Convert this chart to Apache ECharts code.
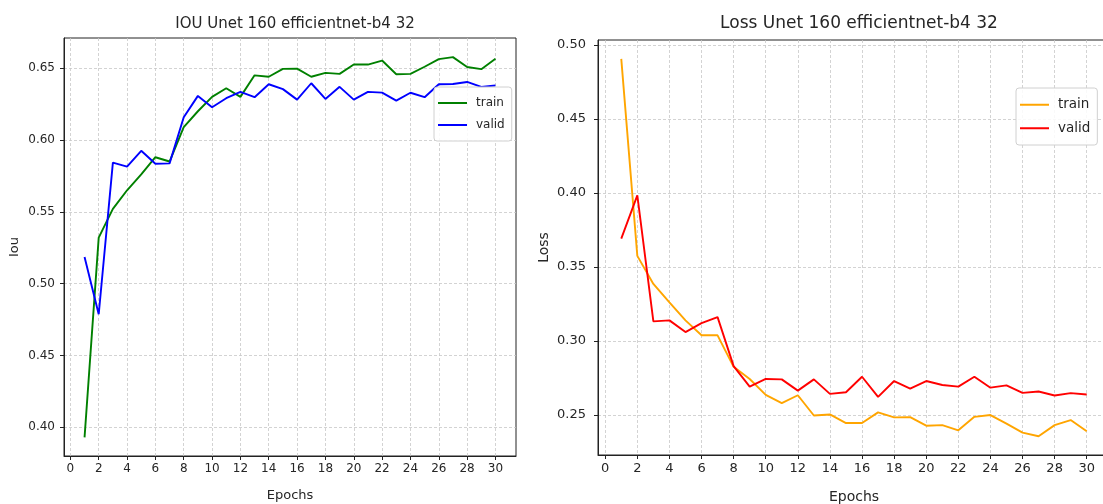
<!DOCTYPE html>
<html>
<head>
<meta charset="utf-8">
<script src="https://cdn.jsdelivr.net/npm/echarts@6/dist/echarts.min.js"></script>
<style>
html,body{margin:0;padding:0;background:#fff;}
#chart{width:1103px;height:504px;}
</style>
</head>
<body>
<div id="chart"></div>
<script>
const epochs = [1,2,3,4,5,6,7,8,9,10,11,12,13,14,15,16,17,18,19,20,21,22,23,24,25,26,27,28,29,30];
const iouTrain = [0.393, 0.532, 0.552, 0.565, 0.576, 0.588, 0.585, 0.609, 0.620, 0.630, 0.636, 0.630, 0.645, 0.644, 0.6495, 0.6497, 0.644, 0.6467, 0.646, 0.6525, 0.6525, 0.6553, 0.6458, 0.646, 0.651, 0.6563, 0.6577, 0.6508, 0.6493, 0.6565];
const iouValid = [0.5186, 0.4787, 0.5842, 0.5814, 0.5925, 0.5835, 0.5837, 0.6158, 0.6307, 0.6228, 0.6291, 0.6335, 0.6298, 0.6388, 0.6354, 0.6281, 0.6395, 0.6286, 0.637, 0.6281, 0.6335, 0.633, 0.6274, 0.6329, 0.6298, 0.6388, 0.639, 0.6404, 0.637, 0.6379];
const lossTrain = [0.4905, 0.3574, 0.3384, 0.326, 0.3138, 0.3037, 0.3037, 0.2824, 0.2742, 0.2634, 0.2578, 0.2632, 0.2495, 0.2502, 0.2444, 0.2444, 0.2516, 0.2482, 0.2484, 0.2426, 0.243, 0.2395, 0.2486, 0.2498, 0.244, 0.2379, 0.2355, 0.243, 0.2464, 0.2388];
const lossValid = [0.369, 0.3983, 0.3131, 0.3138, 0.3059, 0.3119, 0.316, 0.2829, 0.269, 0.2742, 0.2739, 0.2663, 0.2739, 0.2641, 0.2652, 0.2757, 0.2621, 0.2728, 0.2677, 0.2728, 0.2701, 0.269, 0.2757, 0.2683, 0.2699, 0.2648, 0.2657, 0.263, 0.2646, 0.2637];
const xTicks = [0,2,4,6,8,10,12,14,16,18,20,22,24,26,28,30];
const iouTicks = [0.40,0.45,0.50,0.55,0.60,0.65];
const lossTicks = [0.25,0.30,0.35,0.40,0.45,0.50];
const titles = ['IOU Unet 160 efficientnet-b4 32', 'Loss Unet 160 efficientnet-b4 32'];
const legendNames = ['train', 'valid'];

const FONT = 'DejaVu Sans';
const TXT = '#262626';
const pairs = (vals) => epochs.map((e, i) => [e, vals[i]]);

function xAxisFor(gridIndex, fs, nameGap) {
  return {
    type: 'value', gridIndex, min: -0.45, max: 31.45,
    name: 'Epochs', nameLocation: 'middle', nameGap,
    nameTextStyle: {fontFamily: FONT, fontSize: fs + 1, color: TXT},
    axisLine: {show: true, onZero: false, lineStyle: {color: '#222', width: 1}},
    axisTick: {show: true, length: 4, customValues: xTicks, lineStyle: {color: '#222'}},
    axisLabel: {customValues: xTicks, margin: 7, fontFamily: FONT, fontSize: fs, color: TXT},
    splitLine: {show: true, lineStyle: {color: '#c8c8c8', type: [3, 2], width: 0.8}}
  };
}
function yAxisFor(gridIndex, min, max, ticks, name, fs, nameGap, margin) {
  return {
    type: 'value', gridIndex, min, max,
    name, nameLocation: 'middle', nameGap,
    nameTextStyle: {fontFamily: FONT, fontSize: fs + 1, color: TXT},
    axisLine: {show: true, onZero: false, lineStyle: {color: '#222', width: 1}},
    axisTick: {show: true, length: 4, customValues: ticks, lineStyle: {color: '#222'}},
    axisLabel: {customValues: ticks, margin, fontFamily: FONT, fontSize: fs, color: TXT,
      formatter: (v) => v.toFixed(2)},
    splitLine: {show: true, lineStyle: {color: '#c8c8c8', type: [3, 2], width: 0.8}}
  };
}
function line(name, xi, data, color) {
  return {
    name, type: 'line', xAxisIndex: xi, yAxisIndex: xi, data: pairs(data),
    symbol: 'none', smooth: false, animation: false,
    lineStyle: {color, width: 1.9}, itemStyle: {color}
  };
}
function legendFor(names, left, top, fs) {
  return {
    data: names, orient: 'vertical', left, top,
    icon: 'rect', itemWidth: 29, itemHeight: 2, itemGap: 6,
    padding: [8, 7, 8, 4],
    backgroundColor: 'rgba(255,255,255,0.85)', borderColor: '#d0d0d0', borderWidth: 1, borderRadius: 3,
    selectedMode: false,
    formatter: (n) => n.split('_')[1],
    textStyle: {fontFamily: FONT, fontSize: fs, color: TXT, lineHeight: fs + 4, padding: [0, 0, 0, 4]}
  };
}

const chart = echarts.init(document.getElementById('chart'), null, {renderer: 'canvas'});
chart.setOption({
  backgroundColor: '#fff',
  animation: false,
  title: [
    {text: titles[0], left: 290, top: 12, textAlign: 'center',
     textStyle: {fontFamily: FONT, fontSize: 15, fontWeight: 'normal', color: TXT}},
    {text: titles[1], left: 854, top: 10, textAlign: 'center',
     textStyle: {fontFamily: FONT, fontSize: 17, fontWeight: 'normal', color: TXT}}
  ],
  grid: [
    {left: 64, top: 38, width: 452, height: 418, show: true, borderColor: '#222', borderWidth: 1,
     backgroundColor: 'transparent', outerBoundsMode: 'none', containLabel: false},
    {left: 598, top: 40, width: 512, height: 415, show: true, borderColor: '#222', borderWidth: 1,
     backgroundColor: 'transparent', outerBoundsMode: 'none', containLabel: false}
  ],
  xAxis: [xAxisFor(0, 12, 33), xAxisFor(1, 13, 35)],
  yAxis: [
    yAxisFor(0, 0.3800, 0.6710, iouTicks, 'Iou', 12, 43, 9),
    yAxisFor(1, 0.2228, 0.5033, lossTicks, 'Loss', 13, 47, 12)
  ],
  legend: [
    legendFor(['iou_' + legendNames[0], 'iou_' + legendNames[1]], 434, 87, 12),
    legendFor(['loss_' + legendNames[0], 'loss_' + legendNames[1]], 1016, 88, 13.5)
  ],
  series: [
    line('iou_train', 0, iouTrain, '#008000'),
    line('iou_valid', 0, iouValid, '#0000ff'),
    line('loss_train', 1, lossTrain, '#ffa500'),
    line('loss_valid', 1, lossValid, '#ff0000')
  ]
});
</script>
</body>
</html>
